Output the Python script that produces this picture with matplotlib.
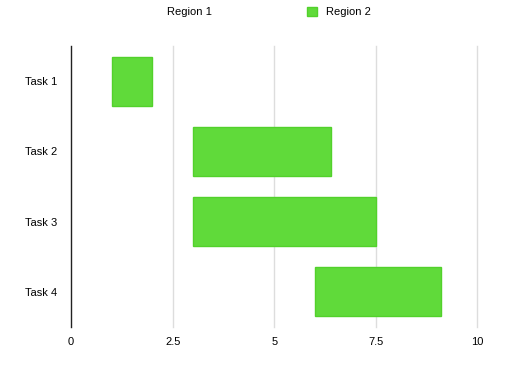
import matplotlib.pyplot as plt

# task rows and the start / duration of each bar
tasks = ["Task 1", "Task 2", "Task 3", "Task 4"]
region1 = [1, 3, 3, 6]          # transparent offset
region2 = [1, 3.4, 4.5, 3.1]    # visible green span
xticks = [0, 2.5, 5, 7.5, 10]
xtick_labels = ["0", "2.5", "5", "7.5", "10"]

plt.rcParams['font.family'] = ['Liberation Sans', 'DejaVu Sans']

fig = plt.figure(figsize=(5.12, 3.75), dpi=100)
ax = fig.add_axes([0.139, 0.128, 0.793, 0.749])

ypos = list(range(len(tasks)))
ax.barh(ypos, region1, height=0.7, color='none', edgecolor='none', label="Region 1")
ax.barh(ypos, region2, left=region1, height=0.7, color='#60da3a',
        edgecolor='#52d12b', linewidth=1, label="Region 2", zorder=3)

ax.set_xlim(0, 10)
ax.set_ylim(3.5, -0.5)
ax.set_yticks(ypos)
ax.set_yticklabels(tasks, fontsize=8)
ax.set_xticks(xticks)
ax.set_xticklabels(xtick_labels, fontsize=8)
ax.tick_params(axis='x', length=0, pad=7)
ax.tick_params(axis='y', length=0, pad=10)

for x in xticks[1:]:
    ax.axvline(x, color='#dddddd', linewidth=1, zorder=1, clip_on=False)

for side in ['top', 'right', 'bottom']:
    ax.spines[side].set_visible(False)
ax.spines['left'].set_color('#222222')
ax.spines['left'].set_linewidth(1)

fig.legend(loc='upper center', bbox_to_anchor=(0.507, 1.008), ncol=2, frameon=False,
           fontsize=8, handlelength=0.9, handleheight=0.9, columnspacing=8.5,
           handletextpad=0.8)

fig.savefig("out.png", dpi=100)
